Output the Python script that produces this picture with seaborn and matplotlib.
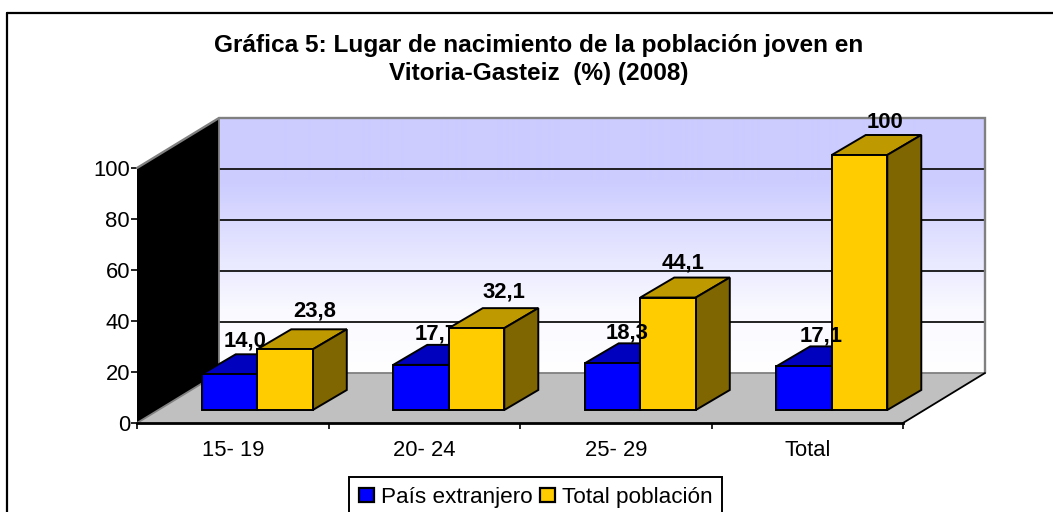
import numpy as np
import pandas as pd
import matplotlib
matplotlib.use('Agg')
import matplotlib.pyplot as plt
import seaborn as sns
from matplotlib.colors import LinearSegmentedColormap
from matplotlib.lines import Line2D
from matplotlib.patches import Polygon

# Chart values
groups = ['15- 19', '20- 24', '25- 29', 'Total']
series_names = ['País extranjero', 'Total población']
foreign = [14.0, 17.7, 18.3, 17.1]
total = [23.8, 32.1, 44.1, 100]
foreign_labels = ['14,0', '17,7', '18,3', '17,1']
total_labels = ['23,8', '32,1', '44,1', '100']
y_ticks = [0, 20, 40, 60, 80, 100]
title = 'Gráfica 5: Lugar de nacimiento de la población joven en\nVitoria-Gasteiz  (%) (2008)'

W, H = 1053, 512
BLUE, BLUE_TOP, BLUE_SIDE = '#0000FF', '#0000BF', '#00007F'
YELLOW, YELLOW_TOP, YELLOW_SIDE = '#FFCC00', '#BF9900', '#7F6600'
FONT_SIZE = 15.8

# label nudges in pixels from the top centre of each bar
FOREIGN_NUDGE = [(16, 33), (15, 31), (15, 30), (17, 30)]
TOTAL_NUDGE = [(30, 38), (27, 36), (15, 35), (25, 33)]
# only the 20-24 label is hidden behind its neighbour in the original
FOREIGN_Z = [4, 4, 9, 9]


def fig_box(left, top, right, bottom):
    return [left / W, 1 - bottom / H, (right - left) / W, (bottom - top) / H]


sns.set_style('white')
plt.rcParams['font.family'] = ['Liberation Sans', 'DejaVu Sans']
plt.rcParams['text.color'] = 'black'
plt.rcParams['xtick.labelcolor'] = 'black'
plt.rcParams['ytick.labelcolor'] = 'black'

df = pd.DataFrame({
    'grupo': groups * 2,
    'serie': [series_names[0]] * 4 + [series_names[1]] * 4,
    'valor': foreign + total,
})

fig = plt.figure(figsize=(W / 100, H / 100), dpi=100, facecolor='white')

# outer frame, only top and left are inside the picture
fig.add_artist(Line2D([7 / W, 1], [1 - 13 / H] * 2, color='black', lw=1.6))
fig.add_artist(Line2D([7 / W] * 2, [1 - 13 / H, 0], color='black', lw=1.6))

fig.text(539 / W, 1 - 59.5 / H, title, ha='center', va='center', fontsize=17.6,
         fontweight='bold', linespacing=1.33, color='black')

# axis box, the walls and floor hang off this one
ax = fig.add_axes(fig_box(137, 168, 903, 423))
ax.patch.set_alpha(0)
ax.set_xlim(-0.5, 3.5)
ax.set_ylim(0, 100)

px_x = 191.5
px_y = 2.55
wall_dx = 82 / px_x
wall_dy = 50 / px_y
x0, x1 = -0.5, 3.5

grad = LinearSegmentedColormap.from_list('wall', ['#FFFFFF', '#F9F9FF', '#E3E3FF', '#CCCCFF', '#CCCCFF'])
ax.imshow(np.linspace(1, 0, 256).reshape(-1, 1), cmap=grad, aspect='auto', zorder=0,
          extent=(x0 + wall_dx, x1 + wall_dx, wall_dy, 100 + wall_dy), clip_on=False)
ax.set_xlim(x0, x1)
ax.set_ylim(0, 100)

for tick in y_ticks[1:-1]:
    ax.plot([x0 + wall_dx, x1 + wall_dx], [tick + wall_dy] * 2, color='#111111', lw=1.3,
            clip_on=False, zorder=1)

ax.add_patch(Polygon([(x0, 0), (x1, 0), (x1 + wall_dx, wall_dy), (x0 + wall_dx, wall_dy)],
                     facecolor='#C0C0C0', edgecolor='none', clip_on=False, zorder=1))
ax.add_patch(Polygon([(x0, 0), (x0 + wall_dx, wall_dy), (x0 + wall_dx, 100 + wall_dy), (x0, 100)],
                     facecolor='black', edgecolor='none', clip_on=False, zorder=2))
ax.plot([x0, x0 + wall_dx, x1 + wall_dx, x1 + wall_dx], [100, 100 + wall_dy, 100 + wall_dy, wall_dy],
        color='#808080', lw=1.7, clip_on=False, zorder=2, solid_joinstyle='miter')
ax.plot([x0, x0 + wall_dx, x0 + wall_dx], [0, wall_dy, 100 + wall_dy],
        color='#808080', lw=1.3, clip_on=False, zorder=2)
ax.plot([x0 + wall_dx, x1 + wall_dx], [wall_dy, wall_dy], color='#808080', lw=1.3, clip_on=False, zorder=2)
ax.plot([x1, x1 + wall_dx], [0, wall_dy], color='black', lw=1.3, clip_on=False, zorder=2)

for side in ['top', 'right', 'left']:
    ax.spines[side].set_visible(False)
ax.spines['bottom'].set_linewidth(2)
ax.spines['bottom'].set_color('black')
ax.set_yticks(y_ticks)
ax.set_xticks(range(len(groups)))
ax.set_xticklabels(groups)
ax.set_xticks(np.arange(x0, x1 + 1), minor=True)
ax.tick_params(axis='x', which='major', length=0, pad=12, labelsize=FONT_SIZE)
ax.tick_params(axis='x', which='minor', length=4, width=1.2, color='black', bottom=True)
ax.tick_params(axis='y', length=4, width=1.2, color='black', pad=1, labelsize=FONT_SIZE, left=True)

# bars sit on their own axes, pushed back onto the floor
ax_bars = fig.add_axes(fig_box(137 + 24.5, 168 - 13, 903 + 24.5, 423 - 13))
ax_bars.patch.set_alpha(0)
sns.barplot(data=df, x='grupo', y='valor', hue='serie', order=groups, hue_order=series_names,
            palette=[BLUE, YELLOW], saturation=1, width=0.58, edgecolor='black', linewidth=1.4,
            ax=ax_bars)
ax_bars.set_xlim(x0, x1)
ax_bars.set_ylim(0, 100)
ax_bars.axis('off')

bar_dx = 34 / px_x
bar_dy = 20 / px_y
faces = [(BLUE_TOP, BLUE_SIDE, 2), (YELLOW_TOP, YELLOW_SIDE, 6)]
for container, (top_col, side_col, z) in zip(ax_bars.containers, faces):
    for bar in container:
        left = bar.get_x()
        right = left + bar.get_width()
        h = bar.get_height()
        bar.set_zorder(z + 1)
        bar.set_clip_on(False)
        ax_bars.add_patch(Polygon([(left, h), (right, h), (right + bar_dx, h + bar_dy), (left + bar_dx, h + bar_dy)],
                                  facecolor=top_col, edgecolor='black', lw=1.4, clip_on=False, zorder=z))
        ax_bars.add_patch(Polygon([(right, 0), (right + bar_dx, bar_dy), (right + bar_dx, h + bar_dy), (right, h)],
                                  facecolor=side_col, edgecolor='black', lw=1.4, clip_on=False, zorder=z))

for bar, text, nudge, z in zip(ax_bars.containers[0], foreign_labels, FOREIGN_NUDGE, FOREIGN_Z):
    ax_bars.annotate(text, (bar.get_x() + bar.get_width() / 2, bar.get_height()), xytext=nudge,
                     textcoords='offset pixels', ha='center', va='center', fontsize=FONT_SIZE,
                     fontweight='bold', color='black', zorder=z, annotation_clip=False)
for bar, text, nudge in zip(ax_bars.containers[1], total_labels, TOTAL_NUDGE):
    ax_bars.annotate(text, (bar.get_x() + bar.get_width() / 2, bar.get_height()), xytext=nudge,
                     textcoords='offset pixels', ha='center', va='center', fontsize=FONT_SIZE,
                     fontweight='bold', color='black', zorder=9, annotation_clip=False)

sns.move_legend(ax_bars, 'upper left', bbox_to_anchor=(349 / W, 1 - 477 / H), bbox_transform=fig.transFigure,
                title=None, frameon=True, fancybox=False, framealpha=1, edgecolor='black', fontsize=16.2,
                ncol=2, handlelength=0.68, handleheight=0.6, handletextpad=0.3, columnspacing=0.3,
                borderpad=0.45, borderaxespad=0)
ax_bars.get_legend().get_frame().set_linewidth(1.4)
for handle in ax_bars.get_legend().get_patches():
    handle.set_linewidth(1.6)

fig.savefig('out.png', dpi=100)
